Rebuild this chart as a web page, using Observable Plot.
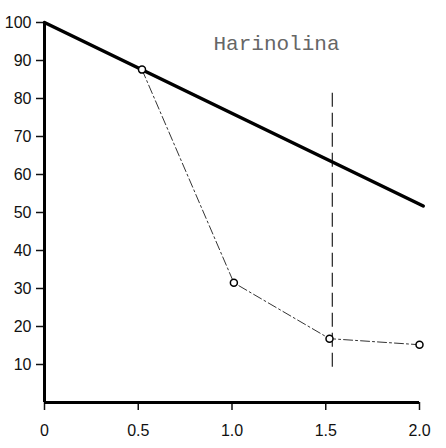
<!DOCTYPE html>
<html>
<head>
<meta charset="utf-8">
<script src="https://cdn.jsdelivr.net/npm/d3@7"></script>
<script src="https://cdn.jsdelivr.net/npm/@observablehq/plot@0.6"></script>
<style>
  html, body { margin: 0; padding: 0; background: #fff; }
</style>
</head>
<body>
<div id="chart"></div>
<script>
// Data
const thickX = [0, 2.02];
const thickY = [100, 51.7];
const thinX = [0.52, 1.01, 1.52, 2.0];
const thinY = [87.6, 31.5, 16.8, 15.2];
const vlineX = 1.535;
const vlineY = [9.3, 81.4];
const xTicks = [0, 0.5, 1.0, 1.5, 2.0];
const xTickLabels = ["0", "0.5", "1.0", "1.5", "2.0"];
const yTicks = [10, 20, 30, 40, 50, 60, 70, 80, 90, 100];
const title = "Harinolina";

const thick = thickX.map((x, i) => ({x, y: thickY[i]}));
const thin = thinX.map((x, i) => ({x, y: thinY[i]}));

const font = "'Liberation Sans', 'DejaVu Sans', sans-serif";

const plot = Plot.plot({
  width: 446,
  height: 448,
  marginLeft: 44,
  marginRight: 27,
  marginTop: 22,
  marginBottom: 46,
  style: {fontFamily: font, fontSize: "16px", color: "#111", background: "#fff"},
  x: {domain: [0, 2]},
  y: {domain: [0, 100]},
  marks: [
    Plot.axisY({ticks: yTicks, tickSize: 8, tickPadding: 5, label: null, fontSize: 16, stroke: "#111", strokeWidth: 1.5}),
    Plot.axisX({ticks: xTicks, tickFormat: (d, i) => xTickLabels[i], tickSize: 8, tickPadding: 14, label: null, fontSize: 16, stroke: "#111", strokeWidth: 1.5}),
    Plot.ruleX([0], {y1: 0, y2: 100, stroke: "#000", strokeWidth: 3}),
    Plot.ruleY([0], {x1: 0, x2: 2, stroke: "#000", strokeWidth: 3}),
    Plot.ruleX([vlineX], {y1: vlineY[0], y2: vlineY[1], stroke: "#222", strokeWidth: 1.2, strokeDasharray: "14,6"}),
    Plot.line(thick, {x: "x", y: "y", stroke: "#000", strokeWidth: 3.5}),
    Plot.line(thin, {x: "x", y: "y", stroke: "#333", strokeWidth: 1, strokeDasharray: "9,3,2,3"}),
    Plot.dot(thin, {x: "x", y: "y", r: 3.5, fill: "#fff", stroke: "#000", strokeWidth: 1.5}),
    Plot.text([title], {frameAnchor: "top-left", dx: 169, dy: 13, text: d => d, fontFamily: "'Liberation Mono', 'DejaVu Sans Mono', monospace", fontSize: 21, fill: "#666", textAnchor: "start", lineAnchor: "top"})
  ]
});
document.getElementById("chart").append(plot);
</script>
</body>
</html>
